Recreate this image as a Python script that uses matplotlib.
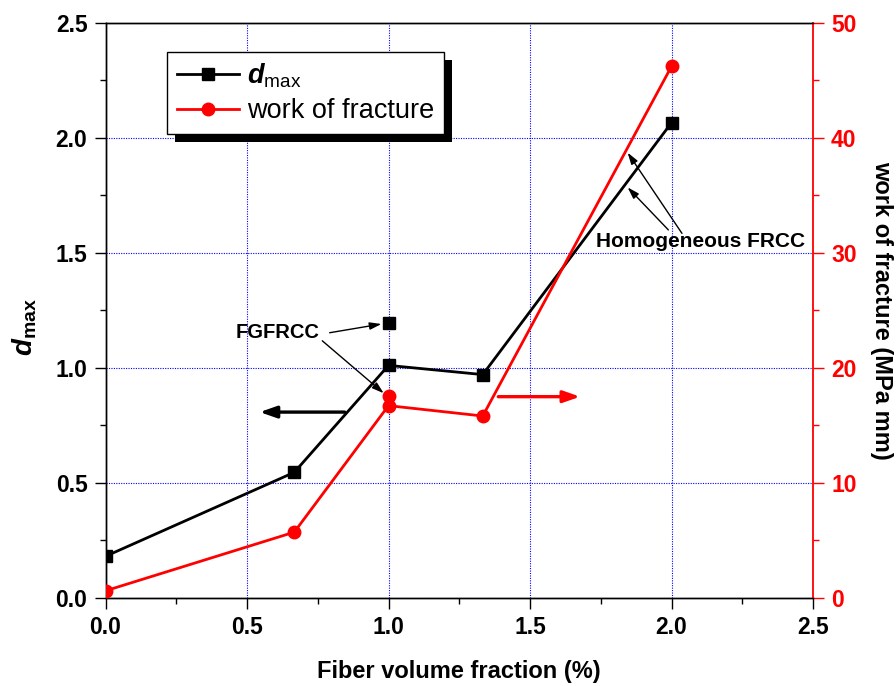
import matplotlib
matplotlib.use('Agg')
import matplotlib.pyplot as plt
from matplotlib.patches import Rectangle
from matplotlib.ticker import MultipleLocator, FormatStrFormatter

plt.rcParams['font.family'] = ['Liberation Sans', 'DejaVu Sans']
plt.rcParams['mathtext.fontset'] = 'custom'
plt.rcParams['mathtext.rm'] = 'Liberation Sans'
plt.rcParams['mathtext.it'] = 'Liberation Sans:italic'
plt.rcParams['mathtext.bf'] = 'Liberation Sans:bold'
try:
    plt.rcParams['mathtext.bfit'] = 'Liberation Sans:italic:bold'
except KeyError:
    pass

# ---- data ----
fiber = [0.0, 0.667, 1.0, 1.333, 2.0]
dmax = [0.18, 0.545, 1.01, 0.97, 2.065]
work = [0.6, 5.7, 16.7, 15.8, 46.2]
fg_fiber = [1.0]
fg_dmax = [1.195]
fg_work = [17.5]

RED = '#ff0000'

fig = plt.figure(figsize=(8.96, 6.86), dpi=100)
L, R, B, T = 105.5/896, 813/896, 1-597.7/686, 1-22.7/686
ax = fig.add_axes([L, B, R-L, T-B])
ax2 = ax.twinx()

ax.set_xlim(0, 2.5)
ax.set_ylim(0, 2.5)
ax2.set_ylim(0, 50)

ax.xaxis.set_major_locator(MultipleLocator(0.5))
ax.xaxis.set_minor_locator(MultipleLocator(0.25))
ax.yaxis.set_major_locator(MultipleLocator(0.5))
ax.yaxis.set_minor_locator(MultipleLocator(0.25))
ax2.yaxis.set_major_locator(MultipleLocator(10))
ax2.yaxis.set_minor_locator(MultipleLocator(5))
ax.xaxis.set_major_formatter(FormatStrFormatter('%.1f'))
ax.yaxis.set_major_formatter(FormatStrFormatter('%.1f'))

ax.grid(True, which='major', color='#0000ff', linestyle=(0, (1, 1.2)), linewidth=0.8)
ax.set_axisbelow(True)

for a in (ax, ax2):
    a.tick_params(which='major', direction='out', length=8, width=1, pad=5)
    a.tick_params(which='minor', direction='out', length=4.5, width=1)
for lab in ax.get_xticklabels() + ax.get_yticklabels():
    lab.set_fontsize(16.5); lab.set_fontweight('bold')
ax2.tick_params(axis='y', colors=RED, which='both')
for lab in ax2.get_yticklabels():
    lab.set_fontsize(16.5); lab.set_fontweight('bold'); lab.set_color(RED)

ax2.spines['right'].set_color(RED)
for s in ax.spines.values():
    s.set_linewidth(1)
for s in ax2.spines.values():
    s.set_linewidth(1)
ax2.spines['right'].set_linewidth(1.3)
ax.spines['right'].set_visible(False)

l1, = ax.plot(fiber, dmax, color='black', lw=2.0, marker='s', ms=8.5, mfc='black', mec='black', zorder=3)
ax.plot(fg_fiber, fg_dmax, linestyle='none', marker='s', ms=8.5, color='black', zorder=3)
l2, = ax2.plot(fiber, work, color=RED, lw=2.0, marker='o', ms=9, mfc=RED, mec=RED, zorder=3)
ax2.plot(fg_fiber, fg_work, linestyle='none', marker='o', ms=9, color=RED, zorder=3)

ax.set_xlabel('Fiber volume fraction (%)', fontsize=17, fontweight='bold', labelpad=15)
ax.set_ylabel(r'$\mathbfit{d}_{\mathregular{max}}$', fontsize=20, fontweight='bold')
ax.yaxis.set_label_coords(-0.094, 0.47)
ax2.set_ylabel('work of fracture (MPa mm)', fontsize=17, fontweight='bold', rotation=270, labelpad=26, color='black')

# annotations
thin = dict(arrowstyle='-|>,head_length=0.7,head_width=0.22', color='black', lw=1.0, shrinkA=0, shrinkB=0)
ax.text(0.609, 1.151, 'FGFRCC', fontsize=14.5, fontweight='bold', ha='center', va='center', zorder=6)
ax.annotate('', xy=(0.975, 1.19), xytext=(0.792, 1.152), arrowprops=thin, zorder=6)
ax.annotate('', xy=(0.983, 0.889), xytext=(0.766, 1.117), arrowprops=thin, zorder=6)
ax.text(2.101, 1.55, 'Homogeneous FRCC', fontsize=15, fontweight='bold', ha='center', va='center', zorder=6)
ax.annotate('', xy=(1.845, 1.784), xytext=(1.989, 1.599), arrowprops=thin, zorder=6)
ax.annotate('', xy=(1.845, 1.935), xytext=(2.037, 1.584), arrowprops=thin, zorder=6)

thick = dict(arrowstyle='-|>,head_length=1.0,head_width=0.35', lw=2.4, shrinkA=0, shrinkB=0)
ax.annotate('', xy=(0.545, 0.807), xytext=(0.845, 0.807),
            arrowprops=dict(thick, color='black'), zorder=6)
ax.annotate('', xy=(1.677, 0.874), xytext=(1.388, 0.874),
            arrowprops=dict(thick, color=RED), zorder=6)

leg = fig.legend(handles=[l1, l2],
                 labels=[r'$\mathbfit{d}_{\mathregular{max}}$', 'work of fracture'],
                 loc='upper left', bbox_to_anchor=(167.3/896, 1-52.3/686),
                 bbox_transform=fig.transFigure, frameon=True, fancybox=False,
                 edgecolor='black', framealpha=1, borderaxespad=0, fontsize=19.5,
                 handlelength=2.3, handletextpad=0.3, numpoints=1,
                 borderpad=0.35, labelspacing=0.3)
leg.get_frame().set_linewidth(1.0)
leg.set_zorder(10)

fig.canvas.draw()
bb = leg.get_window_extent()
W, H = fig.bbox.width, fig.bbox.height
off = 8
shadow = Rectangle(((bb.x0+off)/W, (bb.y0-off)/H), bb.width/W, bb.height/H,
                   transform=fig.transFigure, facecolor='black', edgecolor='none', zorder=9)
fig.add_artist(shadow)

fig.savefig('out.png', dpi=100)
